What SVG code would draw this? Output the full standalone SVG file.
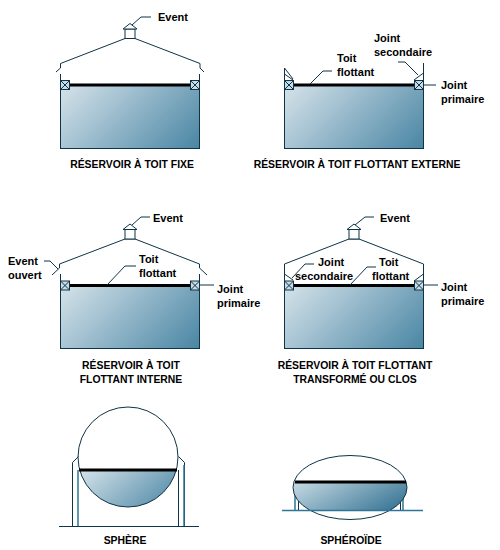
<svg xmlns="http://www.w3.org/2000/svg" width="500" height="550" viewBox="0 0 500 550">
<style>
text{font-family:"Liberation Sans",Arial,sans-serif;font-weight:bold;font-size:11px;fill:#000}
.cap{text-anchor:middle;font-size:10.4px}
.l{fill:none;stroke:#0f3347;stroke-width:1}
.t{fill:url(#g);stroke:#0f3347;stroke-width:1}
.f{fill:url(#g2);stroke:none}
.r{fill:none;stroke:#000;stroke-width:3}
.s{fill:#c9dbe4;stroke:#0f3347;stroke-width:1}
.w{fill:#fff;stroke:#0f3347;stroke-width:1}
.b{fill:none;stroke:#2f7597;stroke-width:1.5}
.c{fill:none;stroke:#0f3347;stroke-width:1}
</style>
<defs>
<linearGradient id="g" x1="0" y1="0" x2="1.200" y2=".54">
<stop offset="0" stop-color="#d6e3ea"/><stop offset="1" stop-color="#4a86a4"/>
</linearGradient>
<linearGradient id="g2" x1="0" y1="0" x2="1.200" y2=".54">
<stop offset="0" stop-color="#c8dbe4"/><stop offset="1" stop-color="#2f6f90"/>
</linearGradient>
<g id="seal"><rect class="s" x="-4.500" y="-4.500" width="9" height="9"/><path class="l" d="M-4.500-4.500L4.500 4.500M4.500-4.500L-4.500 4.500"/></g>
<g id="vent"><rect class="w" x="-5" y="0" width="10" height="9.500"/><path class="w" d="M-7 0L0-5.500L7 0Z"/></g>
</defs>

<g id="tank-fixe">
<rect class="t" x="60.500" y="85.500" width="139" height="63"/>
<path class="l" d="M60.500 85V74M199.500 85V74"/>
<path class="l" d="M56 72L60.500 68V63.500L125 38.500H135L200 63.500V68L204 72"/>
<use href="#vent" x="130" y="29"/>
<path class="r" d="M65 85H195"/>
<use href="#seal" x="65" y="85"/><use href="#seal" x="195" y="85"/>
<text x="158" y="21">Event</text>
<text class="cap" x="132" y="168">RÉSERVOIR À TOIT FIXE</text>
</g>

<g id="tank-externe">
<rect class="t" x="284.500" y="85.500" width="139" height="63"/>
<path class="l" d="M284.500 85V68M423.500 85V63"/>
<path class="l" d="M284.500 74L293 80M423.500 73L414 80"/>
<path class="r" d="M289 85H419"/>
<use href="#seal" x="289" y="85"/><use href="#seal" x="419" y="85"/>
<text x="374" y="42">Joint</text><text x="374" y="56">secondaire</text>
<text x="337" y="62">Toit</text><text x="337" y="76">flottant</text>
<text x="441" y="89">Joint</text><text x="441" y="103">primaire</text>
<text class="cap" x="357" y="168">RÉSERVOIR À TOIT FLOTTANT EXTERNE</text>
</g>

<g id="tank-interne">
<rect class="t" x="60.500" y="285.500" width="139" height="63"/>
<path class="l" d="M60.500 285V274M199.500 285V274"/>
<path class="l" d="M52 275L59.500 268V264L125 239H135L199.500 264V268L207 275"/>
<use href="#vent" x="130" y="229.500"/>
<path class="r" d="M65 285.500H195"/>
<use href="#seal" x="65" y="285.500"/><use href="#seal" x="195" y="285.500"/>
<text x="153" y="222">Event</text>
<text x="8" y="265">Event</text><text x="8" y="279">ouvert</text>
<text x="139" y="263">Toit</text><text x="139" y="277">flottant</text>
<text x="217" y="293">Joint</text><text x="217" y="307">primaire</text>
<text class="cap" x="131" y="369">RÉSERVOIR À TOIT</text>
<text class="cap" x="131" y="383">FLOTTANT INTERNE</text>
</g>

<g id="tank-clos">
<rect class="t" x="284.500" y="285.500" width="139" height="63"/>
<path class="l" d="M284.500 285V264L349 239H359L423.500 264V285"/>
<path class="l" d="M284.500 274L293 280M423.500 274L414 281"/>
<use href="#vent" x="354" y="229.500"/>
<path class="r" d="M289 285.500H419"/>
<use href="#seal" x="289" y="285.500"/><use href="#seal" x="419" y="285.500"/>
<text x="380" y="222">Event</text>
<text x="318" y="266">Joint</text><text x="295" y="280">secondaire</text>
<text x="379" y="266">Toit</text><text x="372" y="280">flottant</text>
<text x="441" y="291">Joint</text><text x="441" y="305">primaire</text>
<text class="cap" x="355" y="369">RÉSERVOIR À TOIT FLOTTANT</text>
<text class="cap" x="355" y="383">TRANSFORMÉ OU CLOS</text>
</g>

<g id="sphere">
<path class="l" d="M59 526.500H199"/>
<path class="l" d="M72.500 526V462.500L78.500 456.500M184.500 526V462.500L178.500 456.500M178.500 526V470"/>
<path class="b" d="M78 526V470M184 526V465"/>
<path fill="url(#g)" d="M79.700 470A50 50 0 0 0 176.300 470Z"/>
<circle class="l" cx="128" cy="457" r="50"/>
<path class="r" d="M79 470H177"/>
<text class="cap" x="125" y="544">SPHÈRE</text>
</g>

<g id="spheroide">
<path class="b" d="M295 482V510M403 482V510"/>
<path class="l" d="M298.500 495V510M400.500 495V510"/>
<path class="f" d="M293.850 482A57 32 0 0 0 309.500 510H390.500A57 32 0 0 0 406.150 482Z"/>
<ellipse class="l" cx="350" cy="487.500" rx="57" ry="32"/>
<path class="b" d="M282 510.500H423"/>
<path class="r" d="M295 482H406"/>
<text class="cap" x="351" y="544">SPHÉROÏDE</text>
</g>

<g id="connectors">
<path class="c" d="M132 25L141 17H151"/>
<path class="c" d="M310 84L323 71H332M293 79L284.500 68M418 75L405 62H398M423 85H436"/>
<path class="c" d="M132 225L141 217H150M44 261H50L58 269M107 285L125 266H136M199 285H214"/>
<path class="c" d="M355 225L365 217H374M292 278L305 264H314M350 285L367 267H376M423 285H438"/>
</g>
</svg>
